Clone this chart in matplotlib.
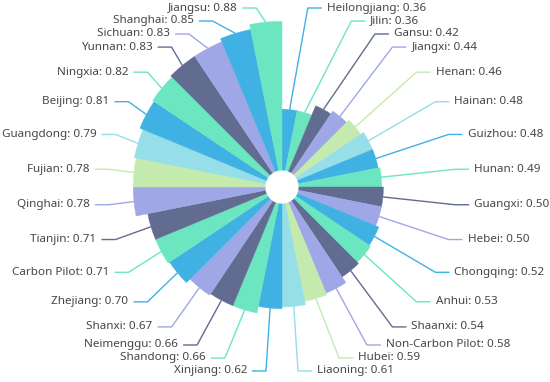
import numpy as np
import matplotlib.pyplot as plt

# data, clockwise from the top
cats = ["Heilongjiang", "Jilin", "Gansu", "Jiangxi", "Henan", "Hainan", "Guizhou",
        "Hunan", "Guangxi", "Hebei", "Chongqing", "Anhui", "Shaanxi",
        "Non-Carbon Pilot", "Hubei", "Liaoning", "Xinjiang", "Shandong",
        "Neimenggu", "Shanxi", "Zhejiang", "Carbon Pilot", "Tianjin", "Qinghai",
        "Fujian", "Guangdong", "Beijing", "Ningxia", "Yunnan", "Sichuan",
        "Shanghai", "Jiangsu"]
vals = [0.36, 0.36, 0.42, 0.44, 0.46, 0.48, 0.48, 0.49, 0.50, 0.50, 0.52, 0.53,
        0.54, 0.58, 0.59, 0.61, 0.62, 0.66, 0.66, 0.67, 0.70, 0.71, 0.71, 0.78,
        0.78, 0.79, 0.81, 0.82, 0.83, 0.83, 0.85, 0.88]

palette = ["#3fb1e3", "#6be6c1", "#626c91", "#a0a7e6", "#c4ebad", "#96dee8"]
# colour cycle restarts in runs, as in the original
runs = [6, 4, 6, 4, 6, 4, 2]
colors = [palette[j] for g in runs for j in range(g)]

W, H = 550, 382
hole = 0.1      # inner white circle
rmax = 1.1
k = 169         # px per value unit
Rx, Ry = 174, 181   # label ring (px), a bit taller than wide

fig = plt.figure(figsize=(W / 100, H / 100), dpi=100)
cx, cy = 282, 187
side = rmax * k
pax = fig.add_axes([(cx - side) / W, (H - cy - side) / H, 2 * side / W, 2 * side / H],
                   projection="polar")
pax.set_theta_zero_location("N")
pax.set_theta_direction(-1)
pax.set_ylim(0, rmax)
pax.set_axis_off()

n = len(vals)
width = 2 * np.pi / n
theta = (np.arange(n) + 0.5) * width
pax.bar(theta, vals, width=width, bottom=hole, color=colors,
        edgecolor=colors, linewidth=0.3)

# overlay in pixel coordinates for the labels
ov = fig.add_axes([0, 0, 1, 1])
ov.set_xlim(0, W)
ov.set_ylim(H, 0)
ov.set_axis_off()

def to_px(t, r):
    d = pax.transData.transform((t, r))
    return ov.transData.inverted().transform(d)

c0 = to_px(0, 0)
outer = [to_px(t, hole + v) for t, v in zip(theta, vals)]
dirs = [(to_px(t, 1) - c0) / k for t in theta]
nat = [c0 + d * np.array([Rx, Ry]) for d in dirs]

labels_y = {}
for right in (True, False):
    idx = [i for i in range(n) if (theta[i] < np.pi) == right]
    idx.sort(key=lambda i: nat[i][1])
    ys = [nat[i][1] for i in idx]
    gap = 13
    for _ in range(300):
        for j in range(1, len(ys)):
            g = ys[j] - ys[j - 1]
            if g < gap:
                d = (gap - g) / 2
                ys[j - 1] -= d
                ys[j] += d
        ys = [min(max(y, 8), 373) for y in ys]
    for i, y in zip(idx, ys):
        labels_y[i] = y

for i in range(n):
    right = theta[i] < np.pi
    sgn = 1 if right else -1
    y = labels_y[i]
    dy = (y - c0[1]) / Ry
    dx = max(Rx * np.sqrt(max(1 - dy ** 2, 0)), 16)
    ex = c0[0] + sgn * dx
    ox, oy = outer[i]
    ov.plot([ox, ex, ex + sgn * 14], [oy, y, y], color=colors[i], lw=1,
            solid_capstyle="butt")
    ov.text(ex + sgn * 19, y, f"{cats[i]}: {vals[i]:.2f}",
            ha="left" if right else "right", va="center",
            fontsize=8.4, color="#464646", family="Noto Sans")

fig.savefig("out.png", dpi=100)
